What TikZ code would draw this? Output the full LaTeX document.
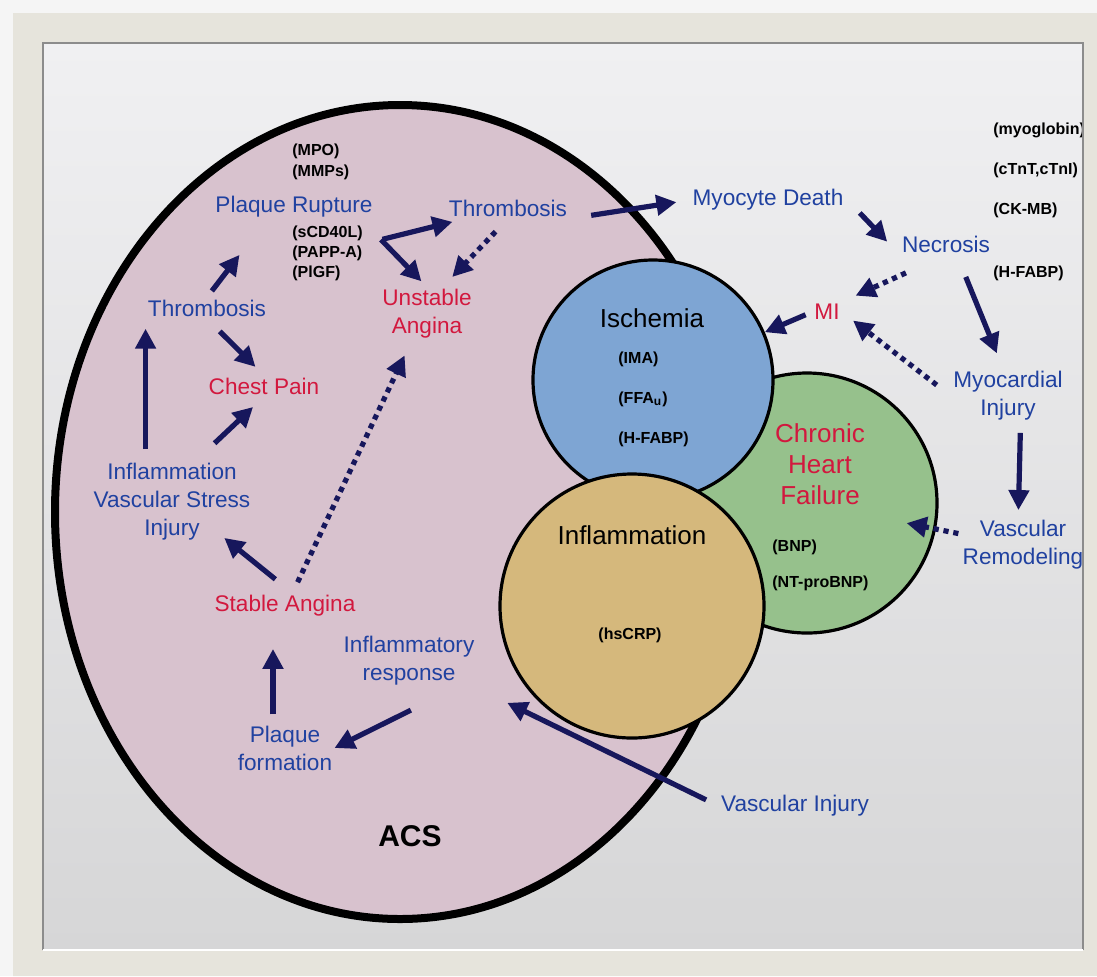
\documentclass[tikz,border=0pt]{standalone}
\usepackage{fontspec}
\setmainfont{Liberation Sans}
\usetikzlibrary{arrows.meta, calc}
\definecolor{NavyArrow}{HTML}{17175C}
\definecolor{StageBlue}{HTML}{2041A0}
\definecolor{SymptomRed}{HTML}{D2183E}
\definecolor{AcsPink}{HTML}{D8C2CE}
\definecolor{IschBlue}{HTML}{7EA5D3}
\definecolor{HeartGreen}{HTML}{96C18C}
\definecolor{InflTan}{HTML}{D5B87C}
\definecolor{FrameBeige}{HTML}{E6E4DC}
\definecolor{PanelTop}{HTML}{F0F0F2}
\definecolor{PanelBottom}{HTML}{D6D6D7}
\tikzset{
  stage/.style={text=StageBlue, align=center, inner sep=1pt, font=\fontsize{11.3}{14}\selectfont},
  symptom/.style={stage, text=SymptomRed},
  marker/.style={text=black, align=left, inner sep=1pt, font=\fontsize{8}{10}\selectfont\bfseries},
  disease/.style={text=black, inner sep=1pt, font=\fontsize{13}{15}\selectfont},
  disc/.style={circle, draw=black, line width=1.6pt, inner sep=0pt},
  arrow/.style={-{Triangle[length=10pt, width=10pt]}, line width=2.6pt, draw=NavyArrow},
  dotarrow/.style={arrow, dash pattern=on 2.6pt off 2.4pt}
}
\begin{document}
\begin{tikzpicture}[x=0.5pt, y=-0.5pt]
\useasboundingbox (0,0) rectangle (1097,976);
% background panel
\fill[white!96!black] (0,0) rectangle (1097,976);
\shade[top color=PanelTop, bottom color=PanelBottom] (43,43) rectangle (1083,950);
% ACS region
\draw[fill=AcsPink, line width=4pt] (400,512) ellipse [x radius=345, y radius=407];
% overlapping circles
\node[disc, fill=HeartGreen, minimum size=130pt] (chf) at (807,503) {};
\node[disc, fill=IschBlue, minimum size=120pt] (isch) at (653,380) {};
\node[disc, fill=InflTan, minimum size=132pt] (infl) at (632,606) {};
\node[disease] (ischT) at (652,318) {Ischemia};
\node[marker, anchor=west] (ischmark) at (616,399) {(IMA)\\[10pt](FFA\textsubscript{u})\\[10pt](H-FABP)};
\node[symptom, font=\fontsize{13}{15.5}\selectfont] (chfT) at (820,464) {Chronic\\Heart\\Failure};
\node[marker, anchor=west] (chfmark) at (770,565) {(BNP)\\[8pt](NT-proBNP)};
\node[disease] (inflT) at (632,535) {Inflammation};
\node[marker] (crp) at (630,635) {(hsCRP)};
% labels inside ACS
\node[stage] (prT) at (294,207) {Plaque Rupture};
\node[marker, anchor=west] (mpo) at (290,162) {(MPO)\\[0.5pt](MMPs)};
\node[marker, anchor=west] (prmark) at (290,253) {(sCD40L)\\(PAPP-A)\\(PlGF)};
\node[stage] (thrT) at (508,208) {Thrombosis};
\node[symptom] (unst) at (427,314) {Unstable\\Angina};
\node[stage] (thrL) at (207,308) {Thrombosis};
\node[symptom] (chest) at (264,386) {Chest Pain};
\node[stage] (ivs) at (172,502) {Inflammation\\Vascular Stress\\Injury};
\node[symptom] (stable) at (285,606) {Stable Angina};
\node[stage] (infr) at (409,661) {Inflammatory\\response};
\node[stage] (pform) at (285,748) {Plaque\\formation};
\node[font=\bfseries\fontsize{15}{17}\selectfont] (acs) at (410,836) {ACS};
% labels outside
\node[stage] (vinj) at (795,806) {Vascular Injury};
\node[stage] (myo) at (768,200) {Myocyte Death};
\node[stage] (necr) at (946,244) {Necrosis};
\node[symptom] (mi) at (827,312) {MI};
\node[stage] (myoinj) at (1008,396) {Myocardial\\Injury};
\node[stage] (vrem) at (1023,545) {Vascular\\Remodeling};
\node[marker, anchor=west] (cardmark) at (991,170) {(myoglobin)\\[10pt](cTnT,cTnI)\\[10pt](CK-MB)};
\node[marker, anchor=west] (necmark) at (991,273) {(H-FABP)};
% arrows
\draw[arrow, shorten <=9pt, shorten >=6.5pt] (prmark) -- (thrT);
\draw[arrow, shorten <=11.5pt, shorten >=4pt] (prmark.north east) -- (unst.north);
\draw[dotarrow, shorten <=9pt, shorten >=7pt] (thrT.south) -- (unst.60);
\draw[arrow, shorten <=4pt, shorten >=22pt] (thrL.north) -- (prT.-155);
\draw[arrow, shorten <=9pt, shorten >=6pt] (thrL.south) -- (chest.north);
\draw[arrow, shorten <=6pt, shorten >=5pt] (ivs.north -| thrL.south west) -- (thrL.south west);
\draw[arrow, shorten <=13pt, shorten >=7.5pt] (ivs.60) -- (chest.south);
\draw[arrow, shorten <=11pt, shorten >=-4pt] (stable.60) -- (ivs.-35);
\draw[dotarrow, shorten <=6pt, shorten >=8pt] (stable.60) -- (unst.-120);
\draw[arrow, shorten <=4.5pt, shorten >=15pt] ([xshift=-6pt]pform.north) -- ([xshift=-6pt]stable.south);
\draw[arrow, shorten <=25pt] (infr.-30) -- (pform.east);
\draw[arrow, shorten <=7pt, shorten >=17pt] (vinj.west) -- (infr.south east);
\draw[arrow, shorten <=11pt, shorten >=7pt] (thrT.south east) -- (myo.west);
\draw[arrow, shorten >=9pt] ([xshift=7pt]myo.south east) -- (necr.south west);
\draw[dotarrow, shorten <=22pt, shorten >=7.5pt] (necr.south) -- (mi.north east);
\draw[arrow, shorten <=12pt, shorten >=8.5pt] (necr.-45) -- (myoinj.100);
\draw[arrow, shorten <=3.5pt] (mi.west) -- (isch);
\draw[dotarrow, shorten <=9pt, shorten >=7pt] (myoinj.west) -- (mi.east);
\draw[arrow, shorten <=5pt, shorten >=4pt] (myoinj.-65) -- (vrem.100);
\draw[dotarrow, shorten <=1pt, shorten >=-15pt] (vrem.170) -- (chf);
% frame
\fill[FrameBeige, even odd rule] (13,13) rectangle (1097,976) (43,43) rectangle (1083,950);
\draw[black!45, line width=1.2pt] (43,950) -- (43,43) -- (1083,43) -- (1083,950);
\draw[white, line width=1.2pt] (43,950) -- (1083,950);
\end{tikzpicture}
\end{document}
